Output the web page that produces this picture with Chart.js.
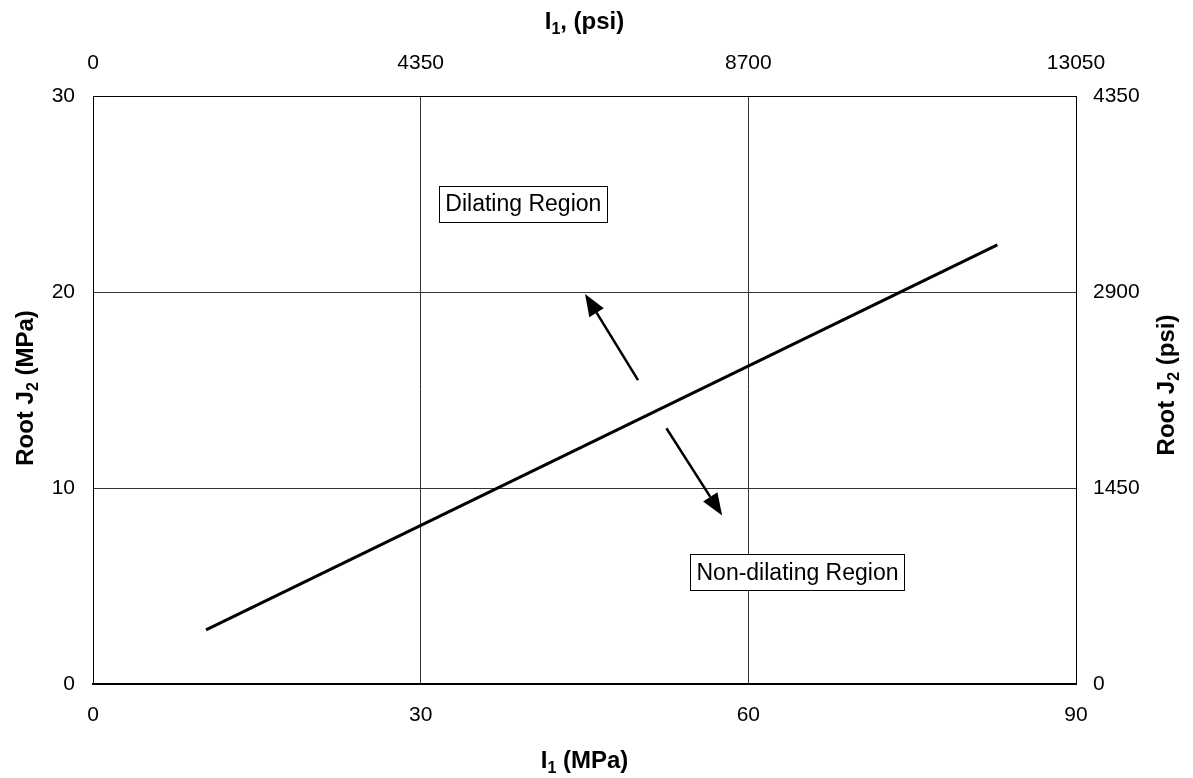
<!DOCTYPE html>
<html>
<head>
<meta charset="utf-8">
<title>Root J2 vs I1</title>
<script src="https://cdn.jsdelivr.net/npm/chart.js@4.4.0/dist/chart.umd.min.js"></script>
<style>
    body { margin: 0; background: #fff; }
    #wrap { width: 1193px; height: 778px; position: relative; }
</style>
</head>
<body>
<div id="wrap">
    <canvas id="dilatancy-chart"></canvas>
</div>
<script>
// boundary line, I1 (MPa) vs Root J2 (MPa)
const lineI1 = [10.35, 82.8];
const lineRootJ2 = [2.76, 22.4];

// axis ticks
const mpaXTicks = [0, 30, 60, 90];
const psiXTicks = [0, 4350, 8700, 13050];
const mpaYTicks = [0, 10, 20, 30];
const psiYTicks = [0, 1450, 2900, 4350];

// arrows (tail -> tip) in MPa
const arrowTailI1 = [49.9, 52.5];
const arrowTailJ2 = [15.5, 13.05];
const arrowTipI1 = [45.05, 57.6];
const arrowTipJ2 = [19.9, 8.6];

// region labels
const regionLabels = ['Dilating Region', 'Non-dilating Region'];
const regionI1 = [39.4, 64.5];
const regionJ2 = [24.5, 5.7];

// axis titles, second item of each part = subscript
const bottomTitle = [['I', 0], ['1', 1], [' (MPa)', 0]];
const topTitle = [['I', 0], ['1', 1], [', (psi)', 0]];
const leftTitle = [['Root J', 0], ['2', 1], [' (MPa)', 0]];
const rightTitle = [['Root J', 0], ['2', 1], [' (psi)', 0]];

const fontFamily = "'Liberation Sans', Arial, Helvetica, sans-serif";

function fixedSize(size) {
    return function (scale) {
        if (scale.isHorizontal()) {
            scale.height = size;
        } else {
            scale.width = size;
        }
    };
}

function plainTick(value) {
    return String(value);
}

function drawRich(ctx, parts, x, y) {
    const mainFont = 'bold 24px ' + fontFamily;
    const subFont = 'bold 16px ' + fontFamily;
    let total = 0;
    parts.forEach(function (p) {
        ctx.font = p[1] ? subFont : mainFont;
        total += ctx.measureText(p[0]).width;
    });
    let cx = x - total / 2;
    ctx.textAlign = 'left';
    ctx.textBaseline = 'alphabetic';
    parts.forEach(function (p) {
        ctx.font = p[1] ? subFont : mainFont;
        ctx.fillText(p[0], cx, y + (p[1] ? 5 : 0));
        cx += ctx.measureText(p[0]).width;
    });
}

const titlesPlugin = {
    id: 'titles',
    afterDraw(chart) {
        const ctx = chart.ctx;
        const area = chart.chartArea;
        const midX = (area.left + area.right) / 2;
        const midY = (area.top + area.bottom) / 2;
        ctx.save();
        ctx.fillStyle = '#000';
        drawRich(ctx, bottomTitle, midX, 768);
        drawRich(ctx, topTitle, midX, 29);

        ctx.save();
        ctx.translate(33, midY - 2);
        ctx.rotate(-Math.PI / 2);
        drawRich(ctx, leftTitle, 0, 0);
        ctx.restore();

        ctx.save();
        ctx.translate(1174, midY - 5);
        ctx.rotate(-Math.PI / 2);
        drawRich(ctx, rightTitle, 0, 0);
        ctx.restore();

        ctx.restore();
    }
};

const markupPlugin = {
    id: 'markup',
    afterDatasetsDraw(chart) {
        const ctx = chart.ctx;
        const xs = chart.scales.x;
        const ys = chart.scales.y;
        ctx.save();

        // arrows
        ctx.strokeStyle = '#000';
        ctx.fillStyle = '#000';
        ctx.lineWidth = 2.5;
        for (let i = 0; i < arrowTailI1.length; i++) {
            const x0 = xs.getPixelForValue(arrowTailI1[i]);
            const y0 = ys.getPixelForValue(arrowTailJ2[i]);
            const x1 = xs.getPixelForValue(arrowTipI1[i]);
            const y1 = ys.getPixelForValue(arrowTipJ2[i]);
            const ang = Math.atan2(y1 - y0, x1 - x0);
            const headLen = 22;
            const headHalf = 8.5;
            const bx = x1 - headLen * Math.cos(ang);
            const by = y1 - headLen * Math.sin(ang);
            ctx.beginPath();
            ctx.moveTo(x0, y0);
            ctx.lineTo(bx, by);
            ctx.stroke();
            ctx.beginPath();
            ctx.moveTo(x1, y1);
            ctx.lineTo(bx + headHalf * Math.sin(ang), by - headHalf * Math.cos(ang));
            ctx.lineTo(bx - headHalf * Math.sin(ang), by + headHalf * Math.cos(ang));
            ctx.closePath();
            ctx.fill();
        }

        // region labels
        ctx.font = '23px ' + fontFamily;
        ctx.textAlign = 'center';
        ctx.textBaseline = 'middle';
        regionLabels.forEach(function (label, i) {
            const cx = xs.getPixelForValue(regionI1[i]);
            const cy = ys.getPixelForValue(regionJ2[i]);
            const w = ctx.measureText(label).width + 12;
            const h = 36;
            ctx.fillStyle = '#fff';
            ctx.fillRect(cx - w / 2, cy - h / 2, w, h);
            ctx.strokeStyle = '#000';
            ctx.lineWidth = 1;
            ctx.strokeRect(Math.round(cx - w / 2) + 0.5, Math.round(cy - h / 2) + 0.5, Math.round(w), h);
            ctx.fillStyle = '#000';
            ctx.fillText(label, cx, cy + 1);
        });

        ctx.restore();
    }
};

const tickFont = {family: fontFamily, size: 21};

const chartConfig = {
    type: 'scatter',
    data: {
        datasets: [
            {
                data: lineI1.map((v, i) => ({x: v, y: lineRootJ2[i]})),
                showLine: true,
                borderColor: '#000',
                borderWidth: 3,
                pointRadius: 0,
                fill: false
            }
        ]
    },
    options: {
        animation: false,
        responsive: true,
        maintainAspectRatio: false,
        layout: {padding: 0},
        plugins: {
            legend: {display: false},
            tooltip: {enabled: false}
        },
        scales: {
            x: {
                type: 'linear',
                position: 'bottom',
                min: 0,
                max: 90,
                afterFit: fixedSize(94),
                afterBuildTicks: function (scale) {
                    scale.ticks = mpaXTicks.map(v => ({value: v}));
                },
                ticks: {color: '#000', font: tickFont, padding: 19, callback: plainTick, maxRotation: 0},
                grid: {color: '#333', lineWidth: 1, drawTicks: false},
                border: {color: '#000', width: 2}
            },
            x2: {
                type: 'linear',
                position: 'top',
                min: 0,
                max: 13050,
                afterFit: fixedSize(96),
                afterBuildTicks: function (scale) {
                    scale.ticks = psiXTicks.map(v => ({value: v}));
                },
                ticks: {color: '#000', font: tickFont, padding: 20, callback: plainTick, maxRotation: 0},
                grid: {display: false, drawTicks: false},
                border: {color: '#000', width: 1}
            },
            y: {
                type: 'linear',
                position: 'left',
                min: 0,
                max: 30,
                afterFit: fixedSize(93),
                afterBuildTicks: function (scale) {
                    scale.ticks = mpaYTicks.map(v => ({value: v}));
                },
                ticks: {color: '#000', font: tickFont, padding: 18, callback: plainTick},
                grid: {color: '#333', lineWidth: 1, drawTicks: false},
                border: {color: '#000', width: 1}
            },
            y2: {
                type: 'linear',
                position: 'right',
                min: 0,
                max: 4350,
                afterFit: fixedSize(117),
                afterBuildTicks: function (scale) {
                    scale.ticks = psiYTicks.map(v => ({value: v}));
                },
                ticks: {color: '#000', font: tickFont, padding: 17, callback: plainTick},
                grid: {display: false, drawTicks: false},
                border: {color: '#000', width: 1}
            }
        }
    },
    plugins: [markupPlugin, titlesPlugin]
};

const chartEl = document.getElementById('dilatancy-chart');
if (chartEl) {
    const dilatancyChart = new Chart(chartEl, chartConfig);
}
</script>
</body>
</html>
